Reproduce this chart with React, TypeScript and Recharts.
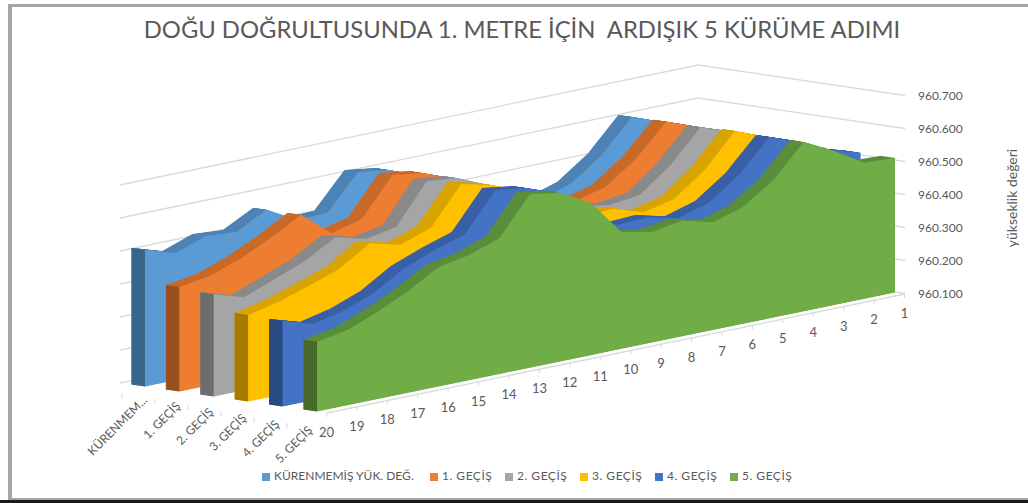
import { AreaChart, Area, XAxis, YAxis, ReferenceLine, Legend } from 'recharts';

const categories = ['20', '19', '18', '17', '16', '15', '14', '13', '12', '11', '10', '9', '8', '7', '6', '5', '4', '3', '2', '1'];
const yTicks = [960.1, 960.2, 960.3, 960.4, 960.5, 960.6, 960.7];
const depthLabels = ['KÜRENMEM...', '1. GEÇİŞ', '2. GEÇİŞ', '3. GEÇİŞ', '4. GEÇİŞ', '5. GEÇİŞ'];
const seriesNames = ['KÜRENMEMİŞ YÜK. DEĞ.', '1. GEÇİŞ', '2. GEÇİŞ', '3. GEÇİŞ', '4. GEÇİŞ', '5. GEÇİŞ'];

const kurenmemis = [960.514, 960.485, 960.518, 960.511, 960.56, 960.51, 960.513, 960.617, 960.604, 960.57, 960.48, 960.44, 960.45, 960.42, 960.449, 960.515, 960.613, 960.579, 960.535, 960.508];
const gecis1 = [960.417, 960.431, 960.464, 960.508, 960.56, 960.485, 960.509, 960.623, 960.61, 960.575, 960.52, 960.46, 960.45, 960.43, 960.454, 960.52, 960.614, 960.58, 960.535, 960.508];
const gecis2 = [960.41, 960.382, 960.418, 960.454, 960.507, 960.482, 960.5, 960.62, 960.61, 960.57, 960.52, 960.45, 960.45, 960.433, 960.445, 960.515, 960.612, 960.58, 960.535, 960.508];
const gecis3 = [960.362, 960.383, 960.413, 960.445, 960.504, 960.48, 960.512, 960.626, 960.604, 960.567, 960.5, 960.45, 960.456, 960.427, 960.448, 960.517, 960.616, 960.58, 960.535, 960.508];
const gecis4 = [960.359, 960.331, 960.352, 960.387, 960.444, 960.479, 960.509, 960.623, 960.61, 960.576, 960.49, 960.441, 960.446, 960.424, 960.451, 960.517, 960.613, 960.58, 960.536, 960.508];
const gecis5 = [960.311, 960.328, 960.364, 960.408, 960.462, 960.479, 960.512, 960.626, 960.61, 960.561, 960.454, 960.435, 960.45, 960.427, 960.454, 960.517, 960.613, 960.567, 960.512, 960.508];
const allSeries = [kurenmemis, gecis1, gecis2, gecis3, gecis4, gecis5];

const frontColors = ['#5B9BD5', '#ED7D31', '#A5A5A5', '#FFC000', '#4472C4', '#70AD47'];
const topColors = ['#4F83B5', '#C96A28', '#8A8A8A', '#D9A400', '#3A60A6', '#5B8E3C'];
const sideColors = ['#39658C', '#9A501E', '#6D6D6D', '#A67B00', '#2A4B82', '#47692B'];

const data = categories.map((cat, j) => {
  const row: Record<string, string | number | null> = { cat };
  allSeries.forEach((s, i) => {
    row[`s${i}`] = s[j];
    // end cap, only spans the first step and gets squeezed into the depth direction
    row[`cap${i}`] = j < 2 ? s[0] : null;
  });
  return row;
});

// plot box of the front plane, in page pixels
const L = 317;
const R = 895;
const TOP = 95.5;
const BOTTOM = 293.5;
const STEP = (R - L) / 19;
const SHEAR = -119 / (R - L);
const LAYER_DX = 34.4;
const LAYER_DY = 5;
const EXTRUDE_DX = 13.5;
const EXTRUDE_DY = 2;
const EXTRUDE_STEPS = 14;

const matrix = (a: number, b: number, e: number, f: number) => `matrix(${a},${b},0,1,${e},${f})`;

const planeCss = () => {
  let css = '';
  for (let i = 0; i < 6; i++) {
    const dx = (i - 5) * LAYER_DX;
    const dy = (i - 5) * LAYER_DY - 1;
    for (let e = 0; e <= EXTRUDE_STEPS; e++) {
      const t = e / EXTRUDE_STEPS;
      css += `g.p${i}-${e}{transform:${matrix(1, SHEAR, dx - EXTRUDE_DX * t, -SHEAR * R + dy - EXTRUDE_DY * t)};}`;
    }
    const a = -EXTRUDE_DX / STEP;
    const b = -EXTRUDE_DY / STEP;
    css += `g.cap${i}{transform:${matrix(a, b, L - a * L + dx, -b * L - SHEAR * (R - L) + dy)};}`;
  }
  // walls and floor
  const backShear = -120 / (R - L);
  css += `g.backwall{transform:${matrix(1, backShear, -197, -backShear * R - 30.5)};}`;
  const a = 207 / (R - L);
  const b = 30.5 / (R - L);
  css += `g.sidewall{transform:${matrix(a, b, 905 - a * R, -b * R)};}`;
  css += `g.floor{transform:${matrix(1, SHEAR, 10, -SHEAR * R + 0.5)};}`;
  css += `.recharts-legend-item{margin-right:0 !important;}`;
  return css;
};

const textColor = '#595959';
const fontFamily = 'Lato, "Open Sans", sans-serif';

function CategoryTick({ x, payload }: any) {
  const px = x + 9.5;
  const floorY = BOTTOM + 0.5 + SHEAR * (x - R);
  return (
    <g>
      <line x1={px} x2={px} y1={floorY} y2={floorY + 4} stroke="#d9d9d9" />
      <text x={px} y={floorY + 24} textAnchor="middle" fill={textColor} fontSize={13} fontFamily={fontFamily}>
        {payload.value}
      </text>
    </g>
  );
}

function DepthTick({ x, y, payload, index }: any) {
  const ty = y - 10 + (x - 148) * 0.182;
  return (
    <g>
      <line x1={x - 26} x2={x - 26} y1={ty - 8} y2={ty - 3} stroke="#d9d9d9" />
      {index === 5 && <line x1={x + 15} x2={x + 15} y1={ty - 2} y2={ty + 2} stroke="#d9d9d9" />}
      <text x={x} y={ty} textAnchor="end" fill={textColor} fontSize={12} fontFamily={fontFamily} transform={`rotate(-45 ${x} ${ty})`}>
        {payload.value}
      </text>
    </g>
  );
}

const margin = { top: TOP, left: L, right: 0, bottom: 503 - BOTTOM - 30 };
const depthData = depthLabels.map((name) => ({ name }));

export default function App() {
  return (
    <div style={{ position: 'fixed', left: 0, top: 0, width: 1028, height: 503, background: '#fff', overflow: 'hidden', fontFamily }}>
      <style>{planeCss()}</style>
      <div style={{ position: 'absolute', left: 8, top: 4, width: 1020, height: 491, borderLeft: '4px solid #a6a6a6', borderTop: '3px solid #a6a6a6', borderBottom: '4px solid #a6a6a6', boxSizing: 'content-box' }} />
      <div style={{ position: 'absolute', left: 0, top: 500, width: 1028, height: 3, background: '#1a1a1a' }} />
      <div style={{ position: 'absolute', left: 0, top: 15, width: 1044, textAlign: 'center', fontSize: 23.8, color: textColor, whiteSpace: 'pre' }}>
        {'DOĞU DOĞRULTUSUNDA 1. METRE İÇİN  ARDIŞIK 5 KÜRÜME ADIMI'}
      </div>

      {/* walls, floor and axes */}
      <div style={{ position: 'absolute', left: 0, top: 0 }}>
        <AreaChart width={1028} height={503} data={data} margin={margin}>
          <XAxis dataKey="cat" interval={0} height={30} tickLine={false} axisLine={false} tick={<CategoryTick />} />
          <YAxis
            orientation="right"
            width={133}
            domain={[960.1, 960.7]}
            allowDataOverflow
            ticks={yTicks}
            interval={0}
            tickLine={false}
            axisLine={false}
            tickMargin={17}
            tickFormatter={(v: number) => v.toFixed(3)}
            tick={{ fill: textColor, fontSize: 12, fontFamily }}
            label={{
              content: () => (
                <text x={1017} y={198} textAnchor="middle" fill={textColor} fontSize={14} fontFamily={fontFamily} transform="rotate(-90 1017 198)">
                  yükseklik değeri
                </text>
              ),
            }}
          />
          {yTicks.map((t) => (
            <ReferenceLine key={`b${t}`} y={t} className="backwall" stroke="#d9d9d9" strokeWidth={1.3} />
          ))}
          {yTicks.map((t) => (
            <ReferenceLine key={`w${t}`} y={t} className="sidewall" stroke="#d9d9d9" strokeWidth={1.3} />
          ))}
          <ReferenceLine y={960.1} className="floor" stroke="#d9d9d9" strokeWidth={1.3} />
        </AreaChart>
      </div>

      {/* series label axis on the left floor edge */}
      <div style={{ position: 'absolute', left: 0, top: 0 }}>
        <AreaChart width={1028} height={503} data={depthData} margin={{ top: 380, left: 148, right: 1028 - 313, bottom: 70 }}>
          <XAxis dataKey="name" interval={0} height={30} tickLine={false} axisLine={false} tick={<DepthTick />} />
          <YAxis hide domain={[0, 1]} />
        </AreaChart>
      </div>

      {/* series, back to front */}
      <div style={{ position: 'absolute', left: 0, top: 0 }}>
        <AreaChart width={1028} height={503} data={data} margin={{ top: TOP, left: L, right: 133, bottom: 503 - BOTTOM }}>
          <XAxis dataKey="cat" hide />
          <YAxis hide domain={[960.1, 960.7]} />
          {allSeries.map((_, i) => {
            const steps = Array.from({ length: EXTRUDE_STEPS }, (_x, k) => EXTRUDE_STEPS - k);
            return [
              ...steps.map((e) => (
                <Area
                  key={`t${i}-${e}`}
                  className={`p${i}-${e}`}
                  dataKey={`s${i}`}
                  type="linear"
                  fill={topColors[i]}
                  fillOpacity={1}
                  stroke="none"
                  legendType="none"
                  isAnimationActive={false}
                />
              )),
              <Area
                key={`c${i}`}
                className={`cap${i}`}
                dataKey={`cap${i}`}
                type="linear"
                fill={sideColors[i]}
                fillOpacity={1}
                stroke="none"
                legendType="none"
                isAnimationActive={false}
              />,
              <Area
                key={`f${i}`}
                className={`p${i}-0`}
                dataKey={`s${i}`}
                name={seriesNames[i]}
                type="linear"
                fill={frontColors[i]}
                fillOpacity={1}
                stroke="none"
                legendType="square"
                isAnimationActive={false}
              />,
            ];
          })}
          <Legend
            itemSorter={null}
            iconType="square"
            iconSize={8}
            align="left"
            verticalAlign="bottom"
            wrapperStyle={{ left: 262, top: 468, width: 620, height: 0, fontSize: 12, fontFamily, color: textColor }}
            formatter={(value: string) => (
              <span style={{ display: 'inline-block', width: value === seriesNames[0] ? 156 : 63, letterSpacing: value === seriesNames[0] ? 0 : 0.5, color: textColor, whiteSpace: 'nowrap' }}>
                {value}
              </span>
            )}
          />
        </AreaChart>
      </div>
    </div>
  );
}
